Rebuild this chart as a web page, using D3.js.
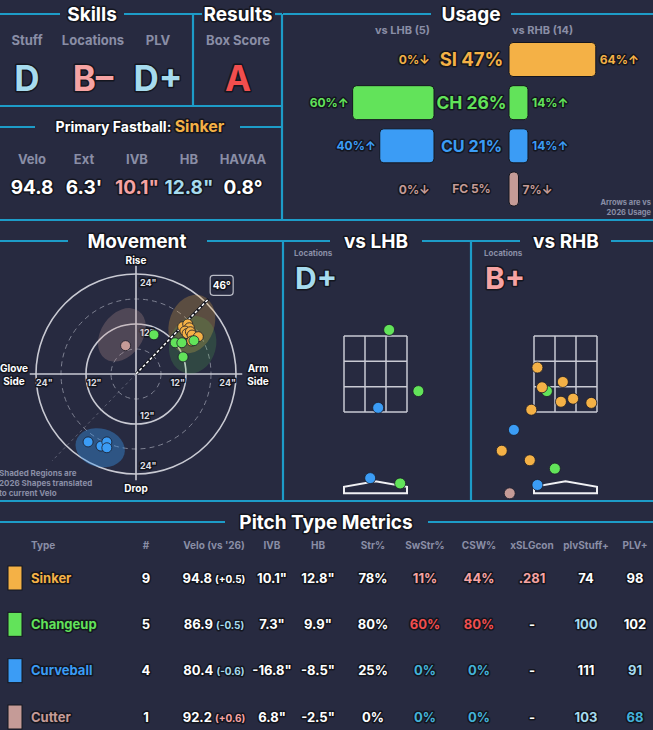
<!DOCTYPE html>
<html>
<head>
<meta charset="utf-8">
<script src="https://cdn.jsdelivr.net/npm/d3@7"></script>
<style>
  body { margin: 0; background: #272a40; }
  text { font-family: Inter, "Noto Sans", "DejaVu Sans", sans-serif; font-weight: 700; }
  .o { paint-order: stroke; stroke: #14161f; stroke-width: 3px; stroke-linejoin: round; }
</style>
</head>
<body>
<svg id="chart"></svg>
<script>
// ---- data ----
const pitchCodes  = ["SI", "CH", "CU", "FC"];
const pitchNames  = ["Sinker", "Changeup", "Curveball", "Cutter"];
const pitchColors = ["#f4b146", "#62e35a", "#3b9cf5", "#c59b97"];

const skillLabels = ["Stuff", "Locations", "PLV"];
const skillGrades = ["D", "B–", "D+"];
const resultLabel = "Box Score";
const resultGrade = "A";

const fbLabels = ["Velo", "Ext", "IVB", "HB", "HAVAA"];
const fbValues = ["94.8", "6.3'", "10.1\"", "12.8\"", "0.8°"];
const fbTiers  = ["n", "n", "hi", "lo", "n"];

const usageAll   = [47, 26, 21, 5];
const usageLHB   = [0, 60, 40, 0];
const usageRHB   = [64, 14, 14, 7];
const arrowLHB   = ["↓", "↑", "↑", "↓"];
const arrowRHB   = ["↑", "↑", "↑", "↓"];
const countLHB = 5, countRHB = 14;

// movement: [type, HB in, IVB in]
const movePoints = [
  ["FC", -2.5, 6.8],
  ["CU", -11.5, -16.3], ["CU", -8.4, -17.3], ["CU", -7.0, -16.3], ["CU", -7.0, -17.7],
  ["SI", 11.2, 11.35], ["SI", 12.4, 12.0], ["SI", 12.8, 11.1], ["SI", 11.75, 10.3], ["SI", 12.25, 9.7],
  ["SI", 13.05, 10.15], ["SI", 13.45, 9.35], ["SI", 14.95, 8.95], ["SI", 13.35, 7.9],
  ["CH", 4.3, 9.4], ["CH", 9.4, 7.5], ["CH", 11.0, 7.5], ["CH", 13.9, 8.0], ["CH", 11.3, 4.1]
];
// 2026 shapes: [type, HB centre, IVB centre, half-width, half-height, tilt deg]
const moveShapes = [
  ["FC", -3.4, 9.4, 5.0, 7.0, 35],
  ["SI", 13.4, 12.0, 5.4, 7.2, 20],
  ["CH", 13.6, 7.0, 5.6, 7.0, 15],
  ["CU", -8.6, -17.7, 6.0, 4.6, 15]
];
const armAngle = 46;
const moveTicks = [12, 24];

// locations: [type, plate_x ft, plate_z ft]
const locLHB = [
  ["CH", 0.36, 3.66], ["CH", 1.13, 2.05], ["CU", 0.07, 1.61],
  ["CU", -0.14, -0.24], ["CH", 0.65, -0.38]
];
const locRHB = [
  ["SI", -0.74, 2.67], ["CH", -0.49, 2.05], ["SI", -0.07, 2.29], ["SI", -0.62, 2.15],
  ["SI", -0.12, 1.77], ["SI", 0.20, 1.85], ["SI", 0.68, 1.74], ["SI", -0.90, 1.56],
  ["CU", -1.36, 1.03], ["SI", -1.68, 0.48], ["SI", -0.94, 0.23], ["CH", -0.28, 0.01],
  ["CU", -0.74, -0.42], ["FC", -1.47, -0.64]
];
const locGradeLHB = "D+";
const locGradeRHB = "B+";

// pitch type metrics
const tblHeaders  = ["#", "Velo (vs '26)", "IVB", "HB", "Str%", "SwStr%", "CSW%", "xSLGcon", "plvStuff+", "PLV+"];
const tblCount    = ["9", "5", "4", "1"];
const tblVelo     = ["94.8", "86.9", "80.4", "92.2"];
const tblVeloDiff = ["+0.5", "-0.5", "-0.6", "+0.6"];
const tblVeloTier = ["n", "lo", "lo", "hi"];
const tblIVB      = ["10.1\"", "7.3\"", "-16.8\"", "6.8\""];
const tblHB       = ["12.8\"", "9.9\"", "-8.5\"", "-2.5\""];
const tblStr      = ["78%", "80%", "25%", "0%"];
const tblSwStr    = ["11%", "60%", "0%", "0%"];
const tblSwTier   = ["hi", "vhi", "vlo", "vlo"];
const tblCSW      = ["44%", "80%", "0%", "0%"];
const tblCSWTier  = ["hi", "vhi", "vlo", "vlo"];
const tblXslg     = [".281", "-", "-", "-"];
const tblXslgTier = ["hi", "n", "n", "n"];
const tblStuff    = ["74", "100", "111", "103"];
const tblStuffTier= ["n", "lo", "n", "lo"];
const tblPLV      = ["98", "102", "91", "68"];
const tblPLVTier  = ["n", "n", "lo", "vlo"];

// ---- setup ----
const W = 653, H = 730;
const BG = "#272a40", LINE = "#1d9cc8", GRAY = "#8a8ea6";
const svg = d3.select("#chart").attr("width", W).attr("height", H);
svg.append("rect").attr("width", W).attr("height", H).attr("fill", BG);

const color = d3.scaleOrdinal(pitchCodes, pitchColors);
const tierColor = d3.scaleOrdinal(["n", "hi", "vhi", "lo", "vlo"],
  ["#ffffff", "#f6a3a3", "#f24e4e", "#a6dbee", "#43b2d9"]);
const gradeTier = g => g[0] === "A" ? "vhi" : g[0] === "B" ? "hi" : "lo";

function txt(sel, x, y, s, size, fill, anchor = "middle", outline = true) {
  return sel.append("text").attr("x", x).attr("y", y)
    .attr("font-size", size).attr("fill", fill)
    .attr("text-anchor", anchor).classed("o", outline).text(s);
}

// frame lines
const frame = [
  [0, 14, 60, 14], [124, 14, 202, 14], [193, 14, 193, 106], [275, 14, 282, 14],
  [282, 14, 282, 220], [0, 106, 282, 106], [0, 127, 35, 127], [240, 127, 282, 127],
  [283, 14, 431, 14], [511, 14, 653, 14], [0, 220, 653, 220],
  [0, 241, 68, 241], [207, 241, 330, 241], [283, 241, 283, 501],
  [422, 241, 520, 241], [471, 241, 471, 501], [611, 241, 653, 241], [0, 501, 653, 501],
  [0, 522, 225, 522], [428, 522, 653, 522]
];
svg.append("g").selectAll("line").data(frame).join("line")
  .attr("x1", d => d[0]).attr("y1", d => d[1]).attr("x2", d => d[2]).attr("y2", d => d[3])
  .attr("stroke", LINE).attr("stroke-width", 2.2);

// titles
[["Skills", 92, 14], ["Results", 238, 14], ["Usage", 471, 14], ["Movement", 137, 241],
 ["vs LHB", 376, 241], ["vs RHB", 566, 241], ["Pitch Type Metrics", 326, 522]]
  .forEach(([s, x, y]) => txt(svg, x, y + 6.8, s, 19, "#fff"));

// ---- skills ----
const skX = [27, 93, 158];
skillLabels.forEach((s, i) => {
  txt(svg, skX[i], 45, s, 13, GRAY, "middle", false);
  txt(svg, skX[i], 91, skillGrades[i], 35, tierColor(gradeTier(skillGrades[i])));
});
txt(svg, 238, 45, resultLabel, 13, GRAY, "middle", false);
txt(svg, 238, 91, resultGrade, 35, tierColor(gradeTier(resultGrade)));

// primary fastball
const fbt = svg.append("text").attr("x", 140).attr("y", 132).attr("text-anchor", "middle").classed("o", true);
fbt.append("tspan").attr("font-size", 14).attr("fill", "#fff").text("Primary Fastball: ");
fbt.append("tspan").attr("font-size", 16).attr("fill", color("SI")).text(pitchNames[0]);
const fbX = [32, 84, 137, 189, 243];
fbLabels.forEach((s, i) => {
  txt(svg, fbX[i], 164, s, 13, GRAY, "middle", false);
  txt(svg, fbX[i], 194, fbValues[i], 19, tierColor(fbTiers[i]));
});

// ---- usage ----
const uy = d3.scalePoint(pitchCodes, [59.5, 189]);
const ux = d3.scaleLinear([0, 100], [0, 135.6]);
const uFont = d3.scaleLinear([5, 30], [12, 18.5]).clamp(true);
const midL = 434, midR = 509, barH = 34;
txt(svg, 430, 34, `vs LHB (${countLHB})`, 11, GRAY, "end", false);
txt(svg, 512, 34, `vs RHB (${countRHB})`, 11, GRAY, "start", false);
const ug = svg.append("g");
pitchCodes.forEach((p, i) => {
  const y = uy(p), c = color(p);
  if (usageLHB[i] > 0)
    ug.append("rect").attr("x", midL - ux(usageLHB[i])).attr("y", y - barH / 2)
      .attr("width", ux(usageLHB[i])).attr("height", barH).attr("rx", 4)
      .attr("fill", c).attr("stroke", "#14161f").attr("stroke-width", 1);
  if (usageRHB[i] > 0)
    ug.append("rect").attr("x", midR).attr("y", y - barH / 2)
      .attr("width", ux(usageRHB[i])).attr("height", barH).attr("rx", 4)
      .attr("fill", c).attr("stroke", "#14161f").attr("stroke-width", 1);
  txt(ug, midL - ux(usageLHB[i]) - 4, y + 4.5, usageLHB[i] + "%" + arrowLHB[i], 12, c, "end");
  txt(ug, midR + ux(usageRHB[i]) + 4, y + 4.5, usageRHB[i] + "%" + arrowRHB[i], 12, c, "start");
  const fs = uFont(usageAll[i]);
  txt(ug, 471.5, y + fs * 0.36, `${p} ${usageAll[i]}%`, fs, c);
});
txt(svg, 651, 205, "Arrows are vs", 7.5, GRAY, "end", false);
txt(svg, 651, 215, "2026 Usage", 7.5, GRAY, "end", false);

// ---- movement ----
const mx = d3.scaleLinear([-24, 24], [36, 236]);
const my = d3.scaleLinear([-24, 24], [474, 274]);
const mr = d3.scaleLinear([0, 24], [0, 100]);
const cx = mx(0), cy = my(0);
const mg = svg.append("g");
[6, 18].forEach(r => mg.append("circle").attr("cx", cx).attr("cy", cy).attr("r", mr(r))
  .attr("fill", "none").attr("stroke", "#7e8192").attr("stroke-width", 1).attr("stroke-dasharray", "5,4"));
moveTicks.forEach(r => mg.append("circle").attr("cx", cx).attr("cy", cy).attr("r", mr(r))
  .attr("fill", "none").attr("stroke", "#c9cad3").attr("stroke-width", 1.6));
mg.append("line").attr("x1", mx(-25.5)).attr("x2", mx(25.5)).attr("y1", cy).attr("y2", cy)
  .attr("stroke", "#c9cad3").attr("stroke-width", 1.6);
mg.append("line").attr("x1", cx).attr("x2", cx).attr("y1", my(26)).attr("y2", my(-25.5))
  .attr("stroke", "#c9cad3").attr("stroke-width", 1.6);
moveTicks.forEach(t => {
  [-1, 1].forEach(s => {
    txt(mg, mx(s * (t - 2)), cy + 12, t + "\"", 9, "#dcdde3");
    txt(mg, cx + 4, my(s * (t - 2)) + 3.5, t + "\"", 9, "#dcdde3", "start");
  });
});
txt(mg, cx, 264, "Rise", 10, "#fff");
txt(mg, cx, 492, "Drop", 10, "#fff");
txt(mg, 14, 372, "Glove", 10, "#fff");
txt(mg, 14, 385, "Side", 10, "#fff");
txt(mg, 258, 372, "Arm", 10, "#fff");
txt(mg, 258, 385, "Side", 10, "#fff");

// shaded shapes
mg.append("g").selectAll("ellipse").data(moveShapes).join("ellipse")
  .attr("cx", 0).attr("cy", 0)
  .attr("rx", d => mr(d[3])).attr("ry", d => mr(d[4]))
  .attr("transform", d => `translate(${mx(d[1])},${my(d[2])}) rotate(${d[5]})`)
  .attr("fill", d => color(d[0]))
  .attr("fill-opacity", d => d[0] === "CU" ? 0.38 : d[0] === "CH" ? 0.16 : 0.26);

// arm angle
const aRad = armAngle * Math.PI / 180;
const armPt = r => [mx(r * Math.cos(aRad)), my(r * Math.sin(aRad))];
mg.append("line").attr("x1", cx).attr("y1", cy)
  .attr("x2", armPt(-29)[0]).attr("y2", armPt(-29)[1])
  .attr("stroke", "#9a9cab").attr("stroke-opacity", 0.45).attr("stroke-width", 1).attr("stroke-dasharray", "3,3");
mg.append("line").attr("x1", cx).attr("y1", cy)
  .attr("x2", armPt(25)[0]).attr("y2", armPt(25)[1])
  .attr("stroke", "#14161f").attr("stroke-width", 3);
mg.append("line").attr("x1", cx).attr("y1", cy)
  .attr("x2", armPt(25)[0]).attr("y2", armPt(25)[1])
  .attr("stroke", "#ffffff").attr("stroke-width", 1.5).attr("stroke-dasharray", "3,2");
const [bx, by] = armPt(29.6);
mg.append("rect").attr("x", bx - 11.5).attr("y", by - 10).attr("width", 23).attr("height", 20)
  .attr("rx", 3).attr("fill", BG).attr("stroke", "#b9bbc5").attr("stroke-width", 1.2);
txt(mg, bx, by + 3.5, armAngle + "°", 10, "#fff");

mg.append("g").selectAll("circle").data(movePoints).join("circle")
  .attr("cx", d => mx(d[1])).attr("cy", d => my(d[2])).attr("r", 5)
  .attr("fill", d => color(d[0])).attr("stroke", "#1a1c28").attr("stroke-width", 0.8);

txt(svg, -1, 476, "Shaded Regions are", 8, GRAY, "start", false);
txt(svg, -1, 486, "2026 Shapes translated", 8, GRAY, "start", false);
txt(svg, -1, 496, "to current Velo", 8, GRAY, "start", false);

// ---- locations ----
function locPanel(x0, grade, locs) {
  const g = svg.append("g");
  const lx = d3.scaleLinear([-0.83, 0.83], [x0, x0 + 63]);
  const ly = d3.scaleLinear([1.5, 3.5], [412, 336]);
  const left = x0 - 50;
  txt(g, left, 256, "Locations", 8, GRAY, "start", false);
  txt(g, left + 1, 288.5, grade, 30, tierColor(gradeTier(grade)), "start");
  const zx = d3.range(4).map(i => lx(-0.83 + i * 1.66 / 3));
  const zy = d3.range(4).map(i => ly(1.5 + i * 2 / 3));
  zx.forEach(x => g.append("line").attr("x1", x).attr("x2", x).attr("y1", ly(3.5)).attr("y2", ly(1.5))
    .attr("stroke", "#c9cad3").attr("stroke-width", 1.5));
  zy.forEach(y => g.append("line").attr("x1", lx(-0.83)).attr("x2", lx(0.83)).attr("y1", y).attr("y2", y)
    .attr("stroke", "#c9cad3").attr("stroke-width", 1.5));
  const plate = [[-0.83, -0.64], [-0.83, -0.47], [0, -0.32], [0.83, -0.47], [0.83, -0.64]];
  g.append("polygon").attr("points", plate.map(p => [lx(p[0]), ly(p[1])].join(",")).join(" "))
    .attr("fill", BG).attr("stroke", "#f0f0f3").attr("stroke-width", 2);
  g.append("g").selectAll("circle").data(locs).join("circle")
    .attr("cx", d => lx(d[1])).attr("cy", d => ly(d[2])).attr("r", 5.5)
    .attr("fill", d => color(d[0])).attr("stroke", "#1a1c28").attr("stroke-width", 0.8);
}
locPanel(344, locGradeLHB, locLHB);
locPanel(534, locGradeRHB, locRHB);

// ---- pitch type metrics ----
const colX = [146, 214, 272, 318, 373, 425, 479, 532, 586, 635];
const ty = d3.scalePoint(pitchNames, [578, 717]);
const tg = svg.append("g");
txt(tg, 31, 549, "Type", 10, GRAY, "start", false);
tblHeaders.forEach((h, i) => txt(tg, colX[i], 549, h, 10, GRAY, "middle", false));
pitchNames.forEach((name, i) => {
  const y = ty(name), b = y + 4.5, c = pitchColors[i];
  tg.append("rect").attr("x", 8).attr("y", y - 12).attr("width", 14).attr("height", 24)
    .attr("fill", c).attr("stroke", "#14161f").attr("stroke-width", 1);
  txt(tg, 31, b, name, 13, c, "start");
  txt(tg, colX[0], b, tblCount[i], 13, "#fff");
  const v = tg.append("text").attr("x", colX[1]).attr("y", b).attr("text-anchor", "middle").classed("o", true);
  v.append("tspan").attr("font-size", 13).attr("fill", "#fff").text(tblVelo[i] + " ");
  v.append("tspan").attr("font-size", 10).attr("fill", tierColor(tblVeloTier[i])).text(`(${tblVeloDiff[i]})`);
  txt(tg, colX[2], b, tblIVB[i], 13, "#fff");
  txt(tg, colX[3], b, tblHB[i], 13, "#fff");
  txt(tg, colX[4], b, tblStr[i], 13, "#fff");
  txt(tg, colX[5], b, tblSwStr[i], 13, tierColor(tblSwTier[i]));
  txt(tg, colX[6], b, tblCSW[i], 13, tierColor(tblCSWTier[i]));
  txt(tg, colX[7], b, tblXslg[i], 13, tierColor(tblXslgTier[i]));
  txt(tg, colX[8], b, tblStuff[i], 13, tierColor(tblStuffTier[i]));
  txt(tg, colX[9], b, tblPLV[i], 13, tierColor(tblPLVTier[i]));
});
</script>
</body>
</html>
